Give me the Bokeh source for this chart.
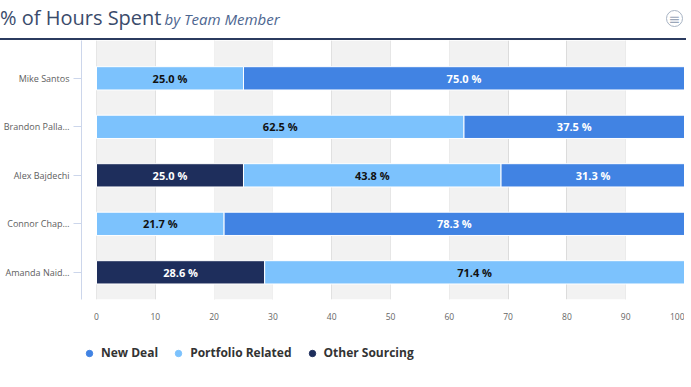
from bokeh.plotting import figure
from bokeh.layouts import column
from bokeh.models import (ColumnDataSource, BoxAnnotation, Div, Legend, LegendItem,
                          FixedTicker, Range1d)
from bokeh.core.properties import value
from bokeh.embed import file_html
from bokeh.resources import INLINE

# ---- data ----
members = ["Amanda Naid…", "Connor Chap…", "Alex Bajdechi", "Brandon Palla…", "Mike Santos"]
other_sourcing = [28.6, 0.0, 25.0, 0.0, 0.0]
portfolio_related = [71.4, 21.7, 43.8, 62.5, 25.0]
new_deal = [0.0, 78.3, 31.3, 37.5, 75.0]
series_keys = ["other_sourcing", "portfolio_related", "new_deal"]
series_names = ["Other Sourcing", "Portfolio Related", "New Deal"]
series_colors = ["#1e2e5c", "#7cc2fd", "#4183e3"]
label_colors = ["#ffffff", "#111111", "#ffffff"]
legend_order = [2, 1, 0]
x_ticks = [0, 10, 20, 30, 40, 50, 60, 70, 80, 90, 100]
band_starts = [0, 20, 40, 60, 80]
band_width = 10
title_text = "% of Hours Spent"
subtitle_text = "by Team Member"

ypos = list(range(len(members)))
src = ColumnDataSource(dict(ypos=ypos, other_sourcing=other_sourcing,
                            portfolio_related=portfolio_related, new_deal=new_deal))

FONT = "Open Sans"
W = 678
HW = 686
FW, FH = 603, 259

# ---------------- header (title + underline + menu icon) ----------------
hdr_html = (
    f'<div style="position:relative;width:{HW}px;height:40px;box-sizing:border-box;'
    f'border-bottom:2px solid #2b3b5f;font-family:\'Open Sans\';">'
    f'<span style="position:absolute;left:0px;top:4px;white-space:nowrap;line-height:28px;">'
    f'<span style="font-size:20px;color:#3a4b6b;">{title_text}</span>&nbsp;'
    f'<span style="font-size:15px;font-style:italic;color:#4d6690;">{subtitle_text}</span></span>'
    f'<span style="position:absolute;left:666px;top:10px;width:17px;height:17px;'
    f'border:1.5px solid #a8b4c4;border-radius:50%;color:#9aa6b8;font-size:14px;'
    f'line-height:17px;text-align:center;font-family:\'DejaVu Sans\';">≡</span>'
    f'</div>'
)
hdr = Div(text=hdr_html, width=HW, height=40, margin=0)

# ---------------- main chart ----------------
p = figure(frame_width=FW, frame_height=FH, output_backend="svg", toolbar_location=None,
           x_range=Range1d(-2.55, 100), y_range=Range1d(-0.56, 4.78),
           min_border_left=75, min_border_right=0, min_border_top=0, min_border_bottom=30)
p.outline_line_color = None
p.background_fill_color = "white"

for b in band_starts:
    p.add_layout(BoxAnnotation(left=b, right=b + band_width, fill_color="#f2f2f2",
                               fill_alpha=1.0, line_color=None, level="underlay"))

p.xgrid.ticker = FixedTicker(ticks=x_ticks)
p.xgrid.grid_line_color = "#dadada"
p.xgrid.grid_line_width = 1
p.ygrid.grid_line_color = None

renderers = p.hbar_stack(series_keys, y="ypos", height=0.48, color=series_colors,
                         line_color="white", line_width=1, source=src)

for i, key in enumerate(series_keys):
    xs, ys, txt = [], [], []
    for j in range(len(members)):
        v = src.data[key][j]
        if v <= 0:
            continue
        left = sum(src.data[k][j] for k in series_keys[:i])
        xs.append(left + v / 2)
        ys.append(ypos[j])
        txt.append(f"{v:.1f} %")
    p.text(x=xs, y=ys, text=txt, text_align="center", text_baseline="middle",
           text_font=value(FONT), text_font_size="11px", text_font_style="bold",
           text_color=label_colors[i])

xa = p.xaxis[0]
xa.ticker = FixedTicker(ticks=x_ticks)
xa.axis_line_color = None
xa.major_tick_line_color = None
xa.minor_tick_line_color = None
xa.major_label_text_font = FONT
xa.major_label_text_font_size = "8.5px"
xa.major_label_text_color = "#666666"
xa.major_label_standoff = 7

ya = p.yaxis[0]
ya.ticker = FixedTicker(ticks=ypos)
ya.major_label_overrides = {i: m for i, m in zip(ypos, members)}
ya.axis_line_color = "#ccd6eb"
ya.major_tick_line_color = "#ccd6eb"
ya.major_tick_out = 8
ya.major_tick_in = 0
ya.minor_tick_line_color = None
ya.major_label_text_font = FONT
ya.major_label_text_font_size = "9px"
ya.major_label_text_color = "#606060"
ya.major_label_standoff = 4

# ---------------- legend strip ----------------
leg = figure(width=W, height=50, output_backend="svg", toolbar_location=None,
             x_axis_location=None, y_axis_location=None, title=None,
             min_border=0, x_range=Range1d(0, 1), y_range=Range1d(0, 1))
leg.outline_line_color = None
leg.grid.visible = False
legend_items = []
for k in legend_order:
    r = leg.scatter(x=[float("nan")], y=[float("nan")], size=15,
                    color=series_colors[k], marker="circle")
    legend_items.append(LegendItem(label=series_names[k], renderers=[r]))
legend = Legend(items=legend_items, orientation="horizontal", location=(0, 18),
                label_text_font=FONT, label_text_font_size="12px",
                label_text_font_style="bold", label_text_color="#333333",
                border_line_color=None, background_fill_alpha=0,
                glyph_width=16, glyph_height=16,
                spacing=12, label_standoff=4, margin=0, padding=0)
leg.add_layout(legend, "center")

layout = column(hdr, p, leg, spacing=0)
open("out.html", "w").write(file_html(layout, INLINE))
